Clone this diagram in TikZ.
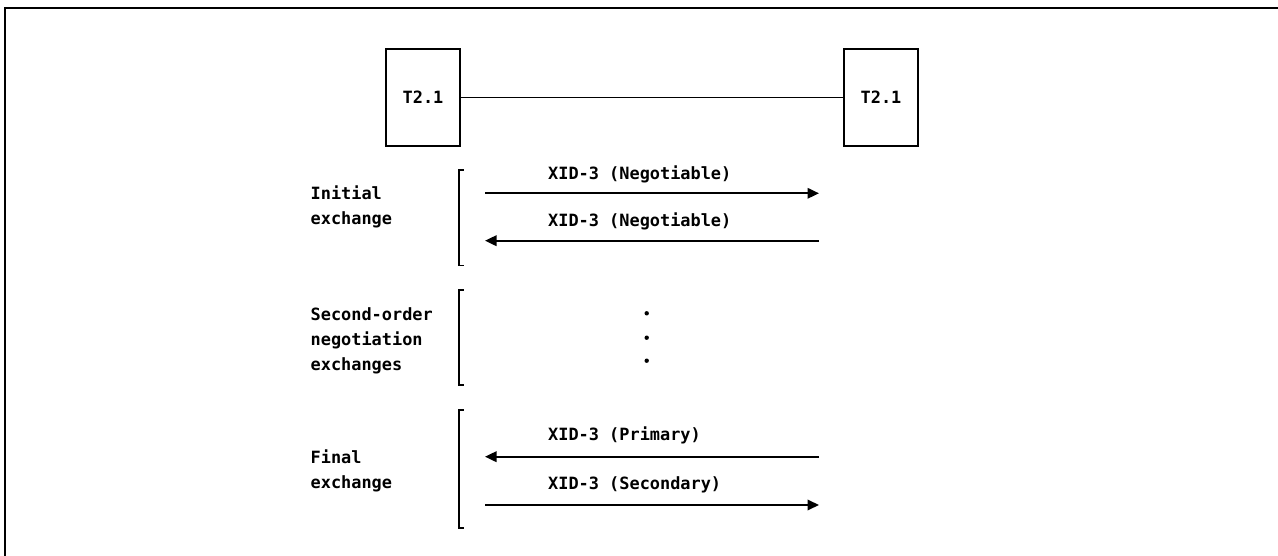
\documentclass[tikz,border=0pt]{standalone}
\usepackage{fontspec}
\newfontfamily\diagfont{DejaVu Sans Mono Bold}
\usetikzlibrary{arrows.meta}
\tikzset{
  lbl/.style={font=\diagfont\fontsize{16.9}{25}\selectfont, inner sep=0pt},
  tbox/.style={draw, line width=1.7pt, minimum width=74pt, minimum height=97pt, inner sep=0pt, lbl},
  msg/.style={line width=1.9pt, -{Triangle[length=11.5pt,width=10.5pt]}},
  brk/.style={line width=1.5pt},
  frm/.style={line width=2.5pt},
  side/.style={lbl, align=left, anchor=north west},
}
\begin{document}
\begin{tikzpicture}[x=1pt,y=-1pt]
\useasboundingbox (0,0) rectangle (1278,556);
% frame
\draw[frm] (5,556) -- (5,8) -- (1278,8);
% boxes
\node[tbox] (L) at (423,97.5) {T2.1};
\node[tbox] (R) at (881,97.5) {T2.1};
\draw[line width=1.7pt] (L) -- (R);
% brackets
\draw[brk] (463.5,170) -- (459,170) -- (459,265.5) -- (463.5,265.5);
\draw[brk] (463.5,290) -- (459,290) -- (459,385) -- (463.5,385);
\draw[brk] (463.5,410) -- (459,410) -- (459,528) -- (463.5,528);
% side labels
\node[side] (s1) at (310.5,186) {Initial\\exchange};
\node[side] (s2) at (310.5,307) {Second-order\\negotiation\\exchanges};
\node[side] (s3) at (310.5,449.5) {Final\\exchange};
% initial exchange
\coordinate (a1l) at (485,193.3);
\coordinate (a1r) at (819,193.3);
\coordinate (a2l) at (485,240.7);
\coordinate (a2r) at (819,240.7);
\node[lbl, anchor=base west] (m1) at (548,180) {XID-3 (Negotiable)};
\draw[msg] (a1l) -- (a1r);
\node[lbl, anchor=base west] (m2) at (548,227) {XID-3 (Negotiable)};
\draw[msg] (a2r) -- (a2l);
% dots
\fill (646.7,313.3) circle (2.2pt);
\fill (646.7,337.7) circle (2.2pt);
\fill (646.7,360.7) circle (2.2pt);
% final exchange
\coordinate (a3l) at (485,456.7);
\coordinate (a3r) at (819,456.7);
\coordinate (a4l) at (485,505);
\coordinate (a4r) at (819,505);
\node[lbl, anchor=base west] (m3) at (548,440) {XID-3 (Primary)};
\draw[msg] (a3r) -- (a3l);
\node[lbl, anchor=base west] (m4) at (548,489) {XID-3 (Secondary)};
\draw[msg] (a4l) -- (a4r);
\end{tikzpicture}
\end{document}
